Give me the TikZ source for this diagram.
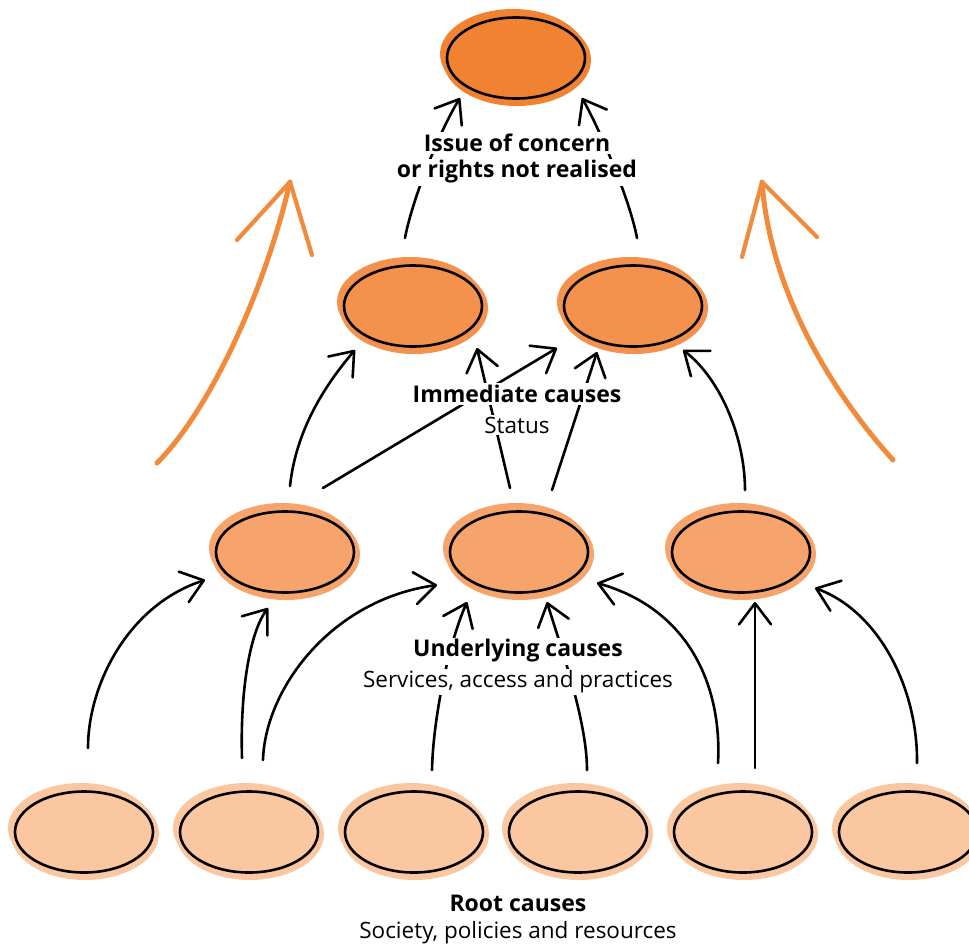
\documentclass[tikz,border=0pt]{standalone}
\usepackage{fontspec}
\setmainfont{Open Sans}
\usetikzlibrary{arrows.meta,shapes.geometric,backgrounds}

\definecolor{tierA}{HTML}{F18232}
\definecolor{tierB}{HTML}{F4914C}
\definecolor{tierC}{HTML}{F6A46C}
\definecolor{tierD}{HTML}{FAC7A0}
\definecolor{flow}{HTML}{F28A3C}

\begin{document}
\begin{tikzpicture}[x=1pt,y=-1pt,
  cause/.style={ellipse, draw=black, line width=2.6pt, minimum width=138pt,
    minimum height=81pt, inner sep=0pt},
  link/.style={line width=2.6pt, line cap=round, line join=round,
    -{Straight Barb[length=21pt,width=32pt,line width=2.6pt,round]}},
  bigflow/.style={draw=flow, line width=5pt, line cap=round},
  barb/.style={draw=flow, line width=4.2pt, line cap=round},
  heading/.style={fill=white, inner sep=2pt, font=\bfseries\fontsize{23}{27}\selectfont},
  subhead/.style={fill=white, inner sep=2pt, font=\fontsize{22.5}{26}\selectfont}]
\useasboundingbox (0,0) rectangle (969,948);

% ellipses, one row per level
\node[cause, fill=tierA] (T)  at (516,58)  {};
\node[cause, fill=tierB] (i1) at (413,306) {};
\node[cause, fill=tierB] (i2) at (633,306) {};
\node[cause, fill=tierC] (u1) at (285,552) {};
\node[cause, fill=tierC] (u2) at (519,552) {};
\node[cause, fill=tierC] (u3) at (741,552) {};
\node[cause, fill=tierD] (r1) at (84,832)  {};
\node[cause, fill=tierD] (r2) at (249,832) {};
\node[cause, fill=tierD] (r3) at (414,832) {};
\node[cause, fill=tierD] (r4) at (578,832) {};
\node[cause, fill=tierD] (r5) at (743,832) {};
\node[cause, fill=tierD] (r6) at (908,832) {};

% soft colour halos behind the outlines
\begin{scope}[on background layer]
  \foreach \n/\c in {T/tierA,i1/tierB,i2/tierB,u1/tierC,u2/tierC,u3/tierC,
                     r1/tierD,r2/tierD,r3/tierD,r4/tierD,r5/tierD,r6/tierD}{
    \fill[\c] ([shift={(-3,-4)}]\n.center) ellipse [x radius=73pt, y radius=45pt];
    \fill[\c] ([shift={(1,2)}]\n.center) ellipse [x radius=74pt, y radius=46pt];
  }
\end{scope}

% large orange side arrows
\coordinate (la) at (157,463);
\coordinate (lt) at (290,182);
\coordinate (lb1) at (237,240);
\coordinate (lb2) at (312,255);
\coordinate (ra) at (893,460);
\coordinate (rt) at (762,182);
\coordinate (rb1) at (742,257);
\coordinate (rb2) at (817,237);
\path[bigflow] (la) .. controls (210,410) and (265,290) .. (lt);
\path[barb] (lt) -- (lb1);
\path[barb] (lt) -- (lb2);
\path[bigflow] (ra) .. controls (830,390) and (770,290) .. (rt);
\path[barb] (rt) -- (rb1);
\path[barb] (rt) -- (rb2);

% immediate causes -> issue of concern
\draw[link] ([shift={(-8,-68)}]i1.center) .. controls (412,200) and (440,130) .. ([shift={(-56,40)}]T.center);
\draw[link] ([shift={(4,-68)}]i2.center) .. controls (630,200) and (600,130) .. ([shift={(66,40)}]T.center);

% underlying causes -> immediate causes
\draw[link] ([shift={(5,-66)}]u1.center) .. controls (296,430) and (325,385) .. ([shift={(-58,44)}]i1.center);
\draw[link] ([shift={(38,-64)}]u1.center) -- ([shift={(-76,42)}]i2.center);
\draw[link] ([shift={(-9,-64)}]u2.center) -- ([shift={(64,42)}]i1.center);
\draw[link] ([shift={(33,-62)}]u2.center) -- ([shift={(-36,46)}]i2.center);
\draw[link] ([shift={(4,-62)}]u3.center) .. controls (745,440) and (722,380) .. ([shift={(50,44)}]i2.center);

% root causes -> underlying causes
\draw[link] ([shift={(4,-84)}]r1.center) .. controls (88,685) and (128,605) .. ([shift={(-80,28)}]u1.center);
\draw[link] ([shift={(-7,-74)}]r2.center) .. controls (240,690) and (250,632) .. ([shift={(-17,56)}]u1.center);
\draw[link] ([shift={(14,-72)}]r2.center) .. controls (265,690) and (330,600) .. ([shift={(-82,33)}]u2.center);
\draw[link] ([shift={(18,-62)}]r3.center) .. controls (433,720) and (448,645) .. ([shift={(-52,50)}]u2.center);
\draw[link] ([shift={(9,-62)}]r4.center) .. controls (587,720) and (560,645) .. ([shift={(28,50)}]u2.center);
\draw[link] ([shift={(-25,-69)}]r5.center) .. controls (722,690) and (692,610) .. ([shift={(78,31)}]u2.center);
\draw[link] ([shift={(12,-64)}]r5.center) -- ([shift={(14,50)}]u3.center);
\draw[link] ([shift={(9,-69)}]r6.center) .. controls (918,690) and (880,612) .. ([shift={(74,36)}]u3.center);

% level labels
\node[heading] (l1a) at (517,143) {Issue of concern};
\node[heading] (l1b) at (517,172) {or rights not realised};
\node[heading] (l2a) at (517,394) {Immediate causes};
\node[subhead] (l2b) at (517,425) {Status};
\node[heading] (l3a) at (518,651) {Underlying causes};
\node[subhead] (l3b) at (518,682) {Services, access and practices};
\node[heading] (l4a) at (518,903) {Root causes};
\node[subhead] (l4b) at (518,933) {Society, policies and resources};
\end{tikzpicture}
\end{document}
